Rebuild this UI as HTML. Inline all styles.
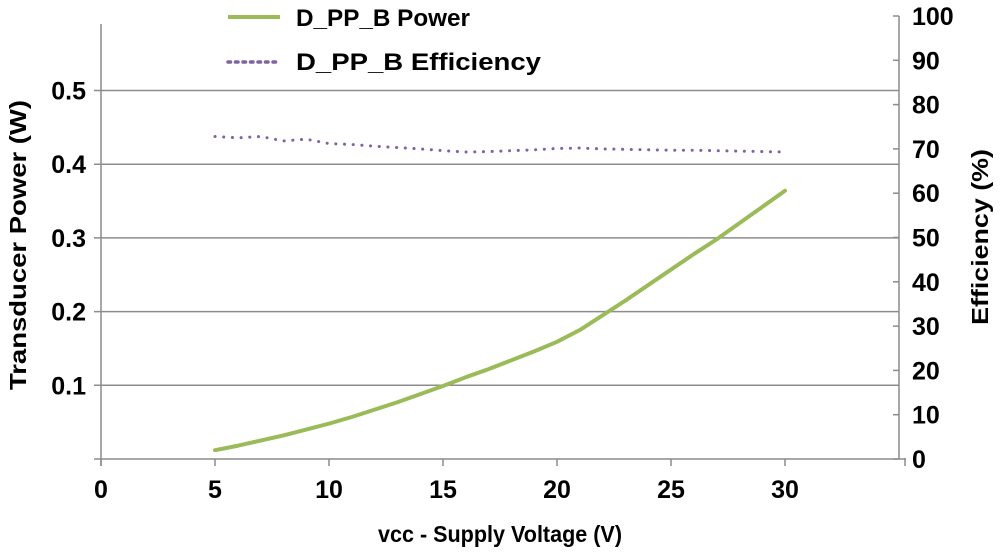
<!DOCTYPE html>
<html><head><meta charset="utf-8"><style>
body{margin:0;background:#fff;}
svg text{font-family:"Liberation Sans",Arial,sans-serif;font-weight:bold;fill:#000;}
</style></head><body>
<svg id="chart" width="1000" height="553" viewBox="0 0 1000 553" xmlns="http://www.w3.org/2000/svg">
<g id="grid"></g>
<g id="axes"></g>
<g id="series"></g>
<g>
  <line x1="228" y1="17" x2="280" y2="17" stroke="#9bbb59" stroke-width="4"/>
  <text x="296" y="26" font-size="24" textLength="174" lengthAdjust="spacingAndGlyphs">D_PP_B Power</text>
  <line x1="228" y1="62" x2="278" y2="62" stroke="#8064a2" stroke-width="3.5" stroke-dasharray="2.5,5" stroke-linecap="round"/>
  <text x="296" y="70" font-size="24" textLength="245" lengthAdjust="spacingAndGlyphs">D_PP_B Efficiency</text>
</g>
<text x="500" y="542" font-size="23" text-anchor="middle" textLength="244" lengthAdjust="spacingAndGlyphs">vcc - Supply Voltage (V)</text>
<text transform="translate(26,245) rotate(-90) scale(1.25,1.05)" font-size="22" text-anchor="middle">Transducer Power (W)</text>
<text transform="translate(988,237) rotate(-90) scale(1.22,1.05)" font-size="22" text-anchor="middle">Efficiency (%)</text>
</svg>
<script>
const voltages=[5,6,7,8,9,10,11,12,13,14,15,16,17,18,19,20,21,22,23,24,25,26,27,28,29,30];
const powerW=[0.012,0.018,0.025,0.032,0.040,0.048,0.057,0.067,0.077,0.088,0.099,0.111,0.122,0.134,0.146,0.159,0.175,0.195,0.215,0.236,0.257,0.278,0.298,0.320,0.342,0.364];
const efficiencyPct=[72.8,72.5,72.8,71.8,72.2,71.2,71.0,70.6,70.3,70.0,69.6,69.3,69.4,69.6,69.8,70.1,70.2,70.0,69.9,69.8,69.7,69.7,69.6,69.5,69.4,69.3];
const xTicks=[0,5,10,15,20,25,30];
const leftTicks=[0.1,0.2,0.3,0.4,0.5];
const rightTicks=[0,10,20,30,40,50,60,70,80,90,100];
const NS="http://www.w3.org/2000/svg";
const X0=101,X1=899,Y0=459;
const xs=v=>X0+v*(X1-X0)/35;
const yl=p=>Y0-p*737;
const yr=e=>Y0-e*4.43;
function mk(tag,attrs,parent){const el=document.createElementNS(NS,tag);for(const k in attrs)el.setAttribute(k,attrs[k]);parent.appendChild(el);return el;}
const grid=document.getElementById('grid'),axes=document.getElementById('axes'),series=document.getElementById('series');
leftTicks.forEach(t=>{
  const g=mk('line',{x1:94,x2:X1,y1:yl(t),y2:yl(t),stroke:'#8c8c8c','stroke-width':1.5},grid);
  
  
  const tx=mk('text',{x:86,y:yl(t)+9,'font-size':25,'text-anchor':'end'},axes);
  tx.textContent=t.toFixed(1);
  
  
});
mk('line',{x1:X0,x2:X0,y1:24,y2:Y0+7,stroke:'#8c8c8c','stroke-width':1.5},axes);
mk('line',{x1:94,x2:X1+7,y1:Y0,y2:Y0,stroke:'#8c8c8c','stroke-width':1.5},axes);
mk('line',{x1:X1,x2:X1,y1:yr(100),y2:Y0,stroke:'#8c8c8c','stroke-width':1.5},axes);
xTicks.forEach(t=>{
  const l=mk('line',{x1:xs(t),x2:xs(t),y1:Y0,y2:Y0+7,stroke:'#8c8c8c','stroke-width':1.5},axes);
  
  
  const tx=mk('text',{x:xs(t),y:498,'font-size':25,'text-anchor':'middle'},axes);
  tx.textContent=t;
  
  
});
mk('line',{x1:X1+6,x2:X1+6,y1:Y0-1,y2:Y0+7,stroke:'#8c8c8c','stroke-width':1.5},axes);
rightTicks.forEach(t=>{
  const l=mk('line',{x1:X1-6,x2:X1,y1:yr(t),y2:yr(t),stroke:'#8c8c8c','stroke-width':1.5},axes);
  
  
  const tx=mk('text',{x:912,y:yr(t)+9,'font-size':25},axes);
  tx.textContent=t;
  
  
});
const pp=mk('polyline',{points:voltages.map((v,i)=>xs(v)+','+yl(powerW[i])).join(' '),fill:'none',stroke:'#9bbb59','stroke-width':4,'stroke-linejoin':'round','stroke-linecap':'round'},series);


const ep=mk('polyline',{points:voltages.map((v,i)=>xs(v)+','+yr(efficiencyPct[i])).join(' '),fill:'none',stroke:'#8064a2','stroke-width':3,'stroke-dasharray':'0.1,8.6','stroke-linecap':'round'},series);


</script>
</body></html>
